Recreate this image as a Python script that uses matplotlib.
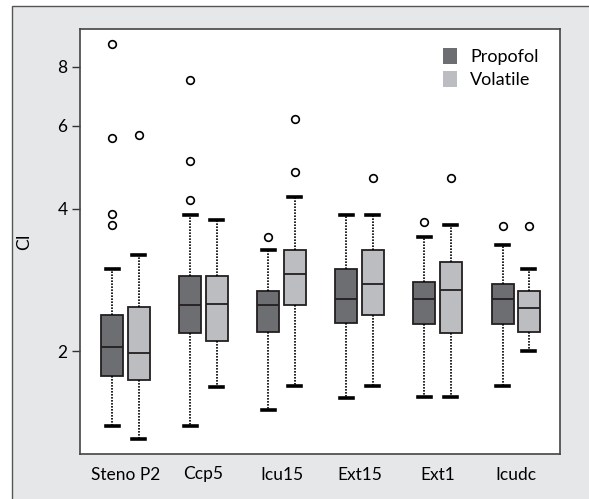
import numpy as np
import matplotlib
matplotlib.use('Agg')
import matplotlib.pyplot as plt
from matplotlib.patches import Patch, Rectangle
from matplotlib.ticker import FixedLocator, NullLocator

plt.rcParams['font.family'] = ['Lato', 'DejaVu Sans']

# ── data (log-scaled CI) ─────────────────────────────────────────────
groups = ['Steno P2', 'Ccp5', 'Icu15', 'Ext15', 'Ext1', 'Icudc']

prop_lo  = [1.39, 1.39, 1.50, 1.59, 1.60, 1.69]
prop_q1  = [1.77, 2.18, 2.19, 2.29, 2.28, 2.28]
prop_med = [2.04, 2.50, 2.50, 2.58, 2.58, 2.58]
prop_q3  = [2.39, 2.88, 2.68, 2.99, 2.80, 2.78]
prop_hi  = [2.98, 3.88, 3.28, 3.88, 3.49, 3.35]
prop_out = [[8.92, 5.65, 3.90, 3.69], [7.51, 5.05, 4.17], [3.48], [], [3.76], [3.68]]

vol_lo  = [1.30, 1.68, 1.69, 1.69, 1.60, 2.00]
vol_q1  = [1.74, 2.10, 2.50, 2.38, 2.18, 2.19]
vol_med = [1.98, 2.51, 2.91, 2.78, 2.70, 2.47]
vol_q3  = [2.48, 2.89, 3.28, 3.28, 3.09, 2.68]
vol_hi  = [3.20, 3.78, 4.24, 3.88, 3.70, 2.98]
vol_out = [[5.73], [], [6.19, 4.78], [4.66], [4.66], [3.68]]

yticks = [2, 4, 6, 8]

c_prop = '#6d6e71'
c_vol = '#bcbdc0'
edge = '#231f20'


def make_stats(lo, q1, med, q3, hi, out):
    return [dict(whislo=a, q1=b, med=c, q3=d, whishi=e, fliers=f)
            for a, b, c, d, e, f in zip(lo, q1, med, q3, hi, out)]


fig = plt.figure(figsize=(5.89, 4.99), dpi=100)

# grey page panel behind the chart
fig.patches.append(Rectangle((12 / 589, -0.1), 1.2, 1 - 6 / 499 + 0.1,
                             transform=fig.transFigure, facecolor='#e6e7e8',
                             edgecolor='#555555', linewidth=1.0, zorder=-10))

ax = fig.add_axes([80 / 589, 1 - 454 / 499, 480 / 589, (454 - 29.3) / 499])

pos = np.arange(1, len(groups) + 1)
off = 0.167
width = 0.282

for stats, p, col in [(make_stats(prop_lo, prop_q1, prop_med, prop_q3, prop_hi, prop_out), pos - off, c_prop),
                      (make_stats(vol_lo, vol_q1, vol_med, vol_q3, vol_hi, vol_out), pos + off, c_vol)]:
    ax.bxp(stats, positions=p, widths=width, patch_artist=True, showfliers=True,
           capwidths=0.17,
           boxprops=dict(facecolor=col, edgecolor=edge, linewidth=1.3),
           medianprops=dict(color=edge, linewidth=1.3),
           whiskerprops=dict(color='black', linewidth=1.2, linestyle=(0, (1.0, 0.8))),
           capprops=dict(color='black', linewidth=2.6),
           flierprops=dict(marker='o', markerfacecolor='white', markeredgecolor='black',
                           markersize=5.5, markeredgewidth=1.2))

ax.set_yscale('log')
ax.set_ylim(1.211, 9.6)
ax.yaxis.set_major_locator(FixedLocator(yticks))
ax.yaxis.set_minor_locator(NullLocator())
ax.set_yticklabels([str(t) for t in yticks])
ax.set_xlim(0.417, 6.57)
ax.set_xticks(pos)
ax.set_xticklabels(groups)

ax.tick_params(axis='y', length=6, width=1.0, color='#333333', labelsize=12.5, pad=3)
ax.tick_params(axis='x', length=0, labelsize=12.5, pad=9)
ax.set_ylabel('CI', fontsize=12.5, labelpad=18)
for s in ax.spines.values():
    s.set_color('#444444')
    s.set_linewidth(1.2)

handles = [Patch(facecolor=c_prop, edgecolor='none', label='Propofol'),
           Patch(facecolor=c_vol, edgecolor='none', label='Volatile')]
fig.legend(handles=handles, loc='upper left', bbox_to_anchor=(434 / 589, 1 - 39 / 499),
           frameon=False, fontsize=13, handlelength=0.8, handleheight=1.0,
           handletextpad=0.7, labelspacing=0.3, borderpad=0)

fig.savefig('out.png', dpi=100)
